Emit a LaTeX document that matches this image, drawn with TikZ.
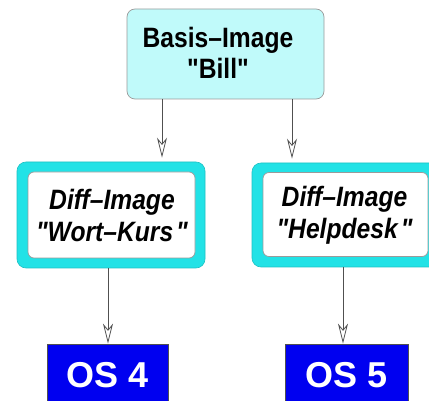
\documentclass[tikz,border=0pt]{standalone}
\usepackage{fontspec}
\usetikzlibrary{arrows.meta}
\newfontfamily\hvn[FakeStretch=0.88]{Liberation Sans}
\newfontfamily\hvw{Liberation Sans}
\definecolor{lightcyan}{HTML}{C0FAFA}
\definecolor{brightcyan}{HTML}{22E2E6}
\definecolor{edgegray}{HTML}{9A9A9A}
\definecolor{linegray}{HTML}{505050}
\definecolor{osblue}{HTML}{0000F0}
\tikzset{
  basebox/.style={draw=edgegray, line width=0.7pt, fill=lightcyan, rounded corners=8pt, inner sep=0pt},
  outerbox/.style={draw=brightcyan!85!black, line width=0.6pt, fill=brightcyan, rounded corners=9pt, inner sep=0pt},
  innerbox/.style={draw=edgegray, line width=0.7pt, fill=white, rounded corners=6pt, inner sep=0pt},
  osbox/.style={draw=linegray, line width=0.8pt, fill=osblue, inner sep=0pt, text=white,
     font=\hvw\bfseries\fontsize{36}{40}\selectfont},
  toptext/.style={align=center, inner sep=0pt, font=\hvn\bfseries\fontsize{28}{31}\selectfont},
  difftext/.style={align=center, inner sep=0pt, font=\hvn\bfseries\itshape\fontsize{28}{32}\selectfont},
  arr/.style={draw=linegray, line width=0.9pt,
     -{Stealth[open, length=20pt, width=10pt, inset=6pt, line width=0.8pt]}},
}
\begin{document}
\begin{tikzpicture}[x=1pt,y=-1pt]
\useasboundingbox (0,0) rectangle (429,401);
\clip (0,0) rectangle (429,401);
% top box
\node[basebox, minimum width=197pt, minimum height=90pt] (top) at (225.5,54) {};
\node[toptext] (toptxt) at (218,53) {Basis–Image\\"Bill"};
% left diff box
\node[outerbox, minimum width=188pt, minimum height=106pt] (wk) at (111,215) {};
\node[innerbox, minimum width=167pt, minimum height=86pt] (wkin) at (111.5,215) {};
\node[difftext] (wktxt) at (112,215) {Diff–Image\\"Wort–Kurs\hspace{3pt}"};
% right diff box
\node[outerbox, minimum width=188pt, minimum height=104pt] (hd) at (346,215) {};
\node[innerbox, minimum width=165pt, minimum height=84pt] (hdin) at (345.5,214.5) {};
\node[difftext] (hdtxt) at (344.5,215) {Diff–Image\\"Helpdesk\hspace{3pt}"};
% OS boxes
\node[osbox, minimum width=121pt, minimum height=62pt] (os4) at (107.5,375) {OS 4};
\node[osbox, minimum width=123pt, minimum height=62pt] (os5) at (346.5,375) {OS 5};
% connector positions
\coordinate (c1) at (162,0);
\coordinate (c2) at (292,0);
\coordinate (c3) at (108,0);
\coordinate (c4) at (343,0);
\draw[arr, shorten >=4pt] (c1 |- top.south) -- (c1 |- wk.north);
\draw[arr, shorten >=4pt] (c2 |- top.south) -- (c2 |- hd.north);
\draw[arr] (c3 |- wk.south) -- (c3 |- os4.north);
\draw[arr] (c4 |- hd.south) -- (c4 |- os5.north);
\end{tikzpicture}
\end{document}
